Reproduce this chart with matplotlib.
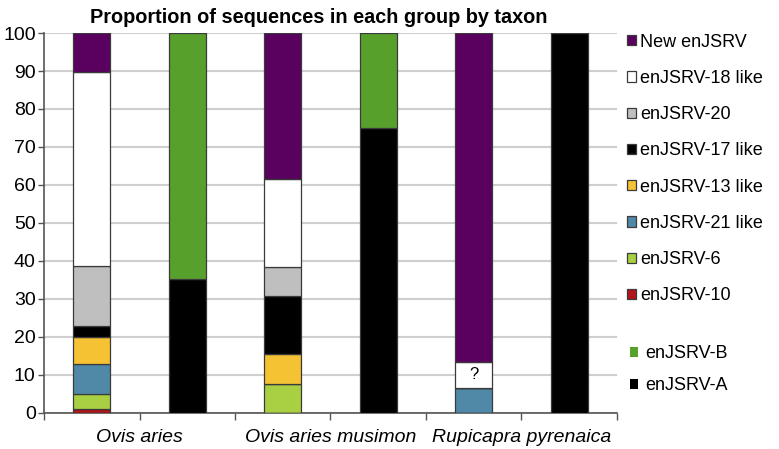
import matplotlib.pyplot as plt
import numpy as np
from matplotlib.patches import Patch

plt.rcParams['font.family'] = ['Liberation Sans', 'DejaVu Sans']

# six bars: per taxon one bar of enJSRV groups, one bar of enJSRV-A/B
taxa = ['Ovis aries', 'Ovis aries musimon', 'Rupicapra pyrenaica']

groups = ['enJSRV-10', 'enJSRV-6', 'enJSRV-21 like', 'enJSRV-13 like',
          'enJSRV-17 like', 'enJSRV-20', 'enJSRV-18 like', 'New enJSRV']
group_colors = ['#b3141a', '#a9d043', '#5088a8', '#f5c233',
                '#000000', '#bfbfbf', '#ffffff', '#5a005f']

enjsrv_10 = [1.1, 0, 0, 0, 0, 0]
enjsrv_6 = [4.0, 0, 7.7, 0, 0, 0]
enjsrv_21 = [7.9, 0, 0, 0, 6.7, 0]
enjsrv_13 = [6.9, 0, 7.7, 0, 0, 0]
enjsrv_17 = [3.0, 0, 15.4, 0, 0, 0]
enjsrv_20 = [15.9, 0, 7.7, 0, 0, 0]
enjsrv_18 = [51.0, 0, 23.1, 0, 6.6, 0]
new_enjsrv = [10.2, 0, 38.4, 0, 86.7, 0]

ab_groups = ['enJSRV-A', 'enJSRV-B']
ab_colors = ['#000000', '#58a02c']
enjsrv_a = [0, 35.2, 0, 75.0, 0, 100.0]
enjsrv_b = [0, 64.8, 0, 25.0, 0, 0]

series = [enjsrv_10, enjsrv_6, enjsrv_21, enjsrv_13,
          enjsrv_17, enjsrv_20, enjsrv_18, new_enjsrv]

fig = plt.figure(figsize=(7.79, 4.49), dpi=100)
ax = fig.add_axes([0.0565, 0.0802, 0.7355, 0.8463])

x = np.arange(6)
w = 0.39
bottom = np.zeros(6)
for vals, col in zip(series, group_colors):
    vals = np.array(vals)
    ax.bar(x, vals, w, bottom=bottom, color=col, edgecolor='#3a3a3a',
           linewidth=0.9, zorder=3)
    bottom += vals

bottom = np.zeros(6)
for vals, col in zip([enjsrv_a, enjsrv_b], ab_colors):
    vals = np.array(vals)
    ax.bar(x, vals, w, bottom=bottom, color=col, edgecolor='#3a3a3a',
           linewidth=0.9, zorder=3)
    bottom += vals

# unknown segment on the Rupicapra bar
ax.text(4, enjsrv_21[4] + enjsrv_18[4] / 2, '?', ha='center', va='center',
        fontsize=12, zorder=4)

ax.set_xlim(-0.5, 5.5)
ax.set_ylim(0, 100)
ax.set_yticks(range(0, 101, 10))
ax.tick_params(axis='y', labelsize=14, length=4, width=1, color='#555555', pad=2)
ax.yaxis.grid(True, color='#cfcfcf', linewidth=1.5, zorder=0)
ax.set_axisbelow(True)

ax.set_xticks(np.arange(-0.5, 6, 1))
ax.set_xticklabels([])
ax.tick_params(axis='x', length=5, width=1, color='#555555')
for i, t in enumerate(taxa):
    ax.text(2 * i + 0.5, -4.3, t, ha='center', va='top', style='italic',
            fontsize=14, transform=ax.transData)

for s in ['top', 'right']:
    ax.spines[s].set_visible(False)
for s in ['left', 'bottom']:
    ax.spines[s].set_color('#555555')
    ax.spines[s].set_linewidth(1.2)

ax.set_title('Proportion of sequences in each group by taxon', fontsize=14.3,
             fontweight='bold', pad=7, x=0.48)

h1 = [Patch(facecolor=c, edgecolor='#3a3a3a', linewidth=0.9)
      for c in group_colors[::-1]]
fig.legend(h1, groups[::-1], loc='upper left',
           bbox_to_anchor=(0.795, 0.941), frameon=False, fontsize=13,
           handlelength=0.5, handleheight=0.5, handletextpad=0.25,
           labelspacing=1.066, borderaxespad=0)
h2 = [Patch(facecolor=c, edgecolor='none') for c in ab_colors[::-1]]
fig.legend(h2, ab_groups[::-1], loc='upper left',
           bbox_to_anchor=(0.799, 0.247), frameon=False, fontsize=13,
           handlelength=0.45, handleheight=0.45, handletextpad=0.4,
           labelspacing=0.84, borderaxespad=0)

fig.savefig('out.png', dpi=100)
